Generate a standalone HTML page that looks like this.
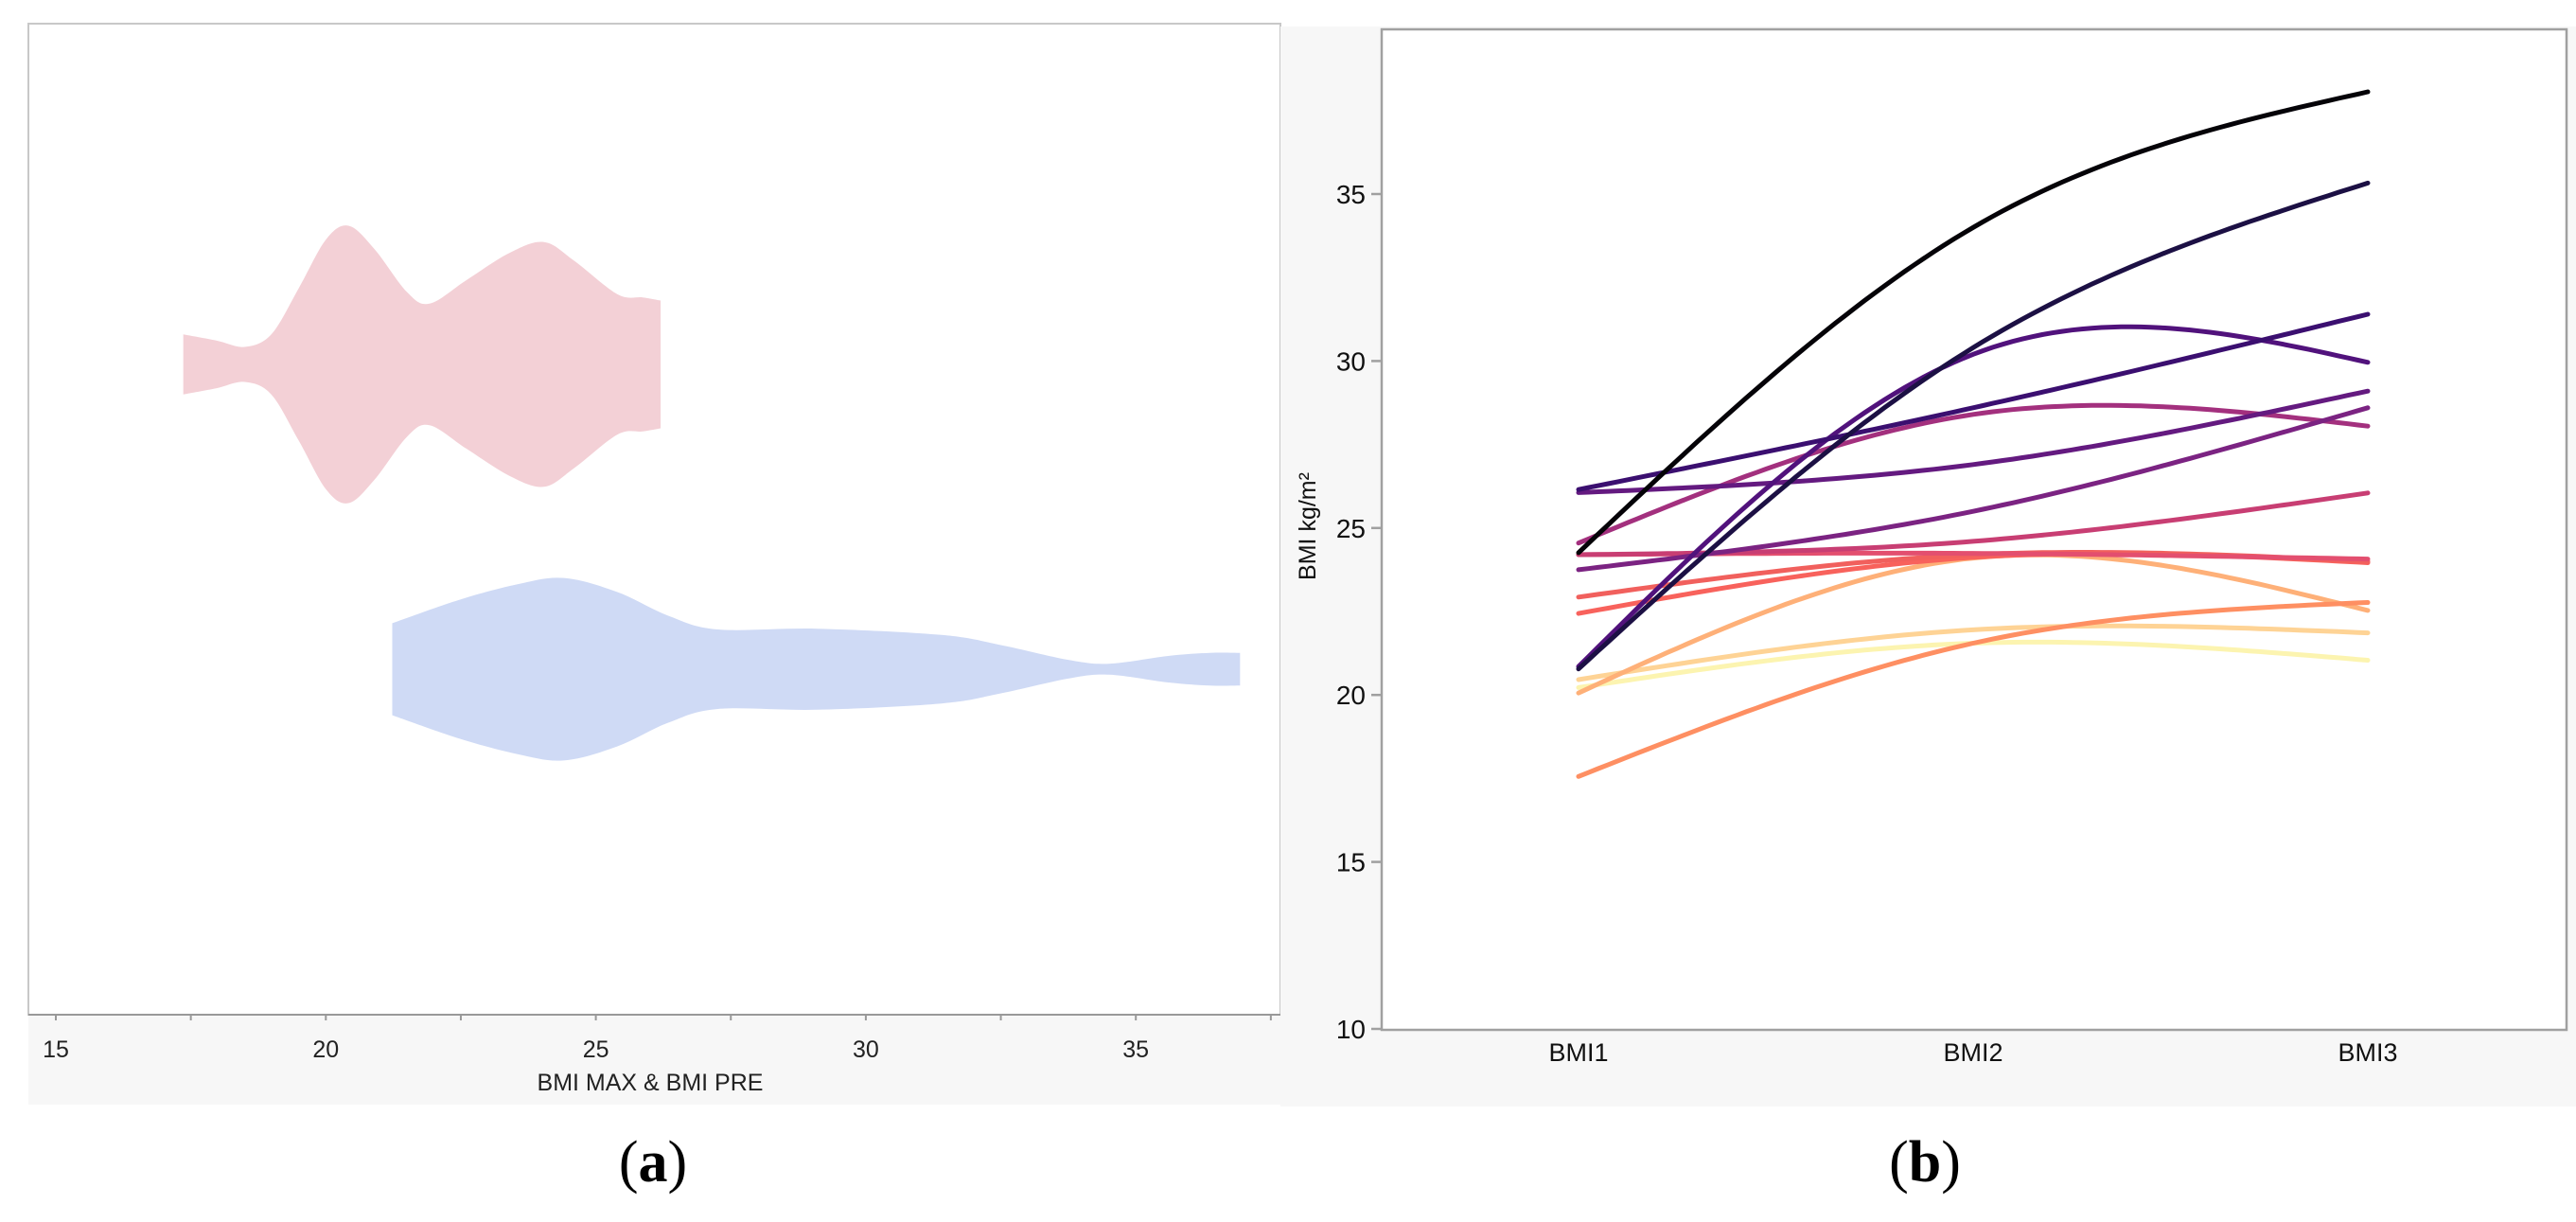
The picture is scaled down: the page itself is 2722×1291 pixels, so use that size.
<!DOCTYPE html>
<html><head><meta charset="utf-8"><style>
html,body{margin:0;padding:0;background:#fff;}
svg{display:block;font-family:"Liberation Sans",sans-serif;}
</style></head><body>
<svg id="root" width="2722" height="1291" viewBox="0 0 2722 1291" xmlns="http://www.w3.org/2000/svg">
<g id="pa">
  <rect x="30" y="25" width="1323" height="1047" fill="#fff" stroke="#c8c8c8" stroke-width="2"/>
  <rect x="30" y="1073" width="1323" height="94" fill="#f7f7f7"/>
  <line x1="30" y1="1072" x2="1353" y2="1072" stroke="#999" stroke-width="2"/>
  <g id="violins"></g>
  <g id="xticksA"></g>
  <text x="687" y="1152" font-size="25" text-anchor="middle" fill="#222">BMI MAX &amp; BMI PRE</text>
  <text x="690" y="1248" font-size="62" text-anchor="middle" font-family="'Liberation Serif',serif">(<tspan font-weight="bold">a</tspan>)</text>
</g>
<g id="pb">
  <rect x="1353" y="28" width="1369" height="1141" fill="#f7f7f7"/>
  <rect x="1460" y="31" width="1252" height="1057" fill="#fff" stroke="#a0a0a0" stroke-width="2.5"/>
  <g id="yticksB"></g>
  <g id="xticksB"></g>
  <g id="lines"></g>
  <text transform="translate(1390,556) rotate(-90)" font-size="25" text-anchor="middle" fill="#111">BMI kg/m²</text>
  <text x="2034" y="1248" font-size="62" text-anchor="middle" font-family="'Liberation Serif',serif">(<tspan font-weight="bold">b</tspan>)</text>
</g>
</svg>
<script>
const NS="http://www.w3.org/2000/svg";
// ---- Panel a data ----
const aTicks=[15,20,25,30,35];
const pinkX=[17.36,17.98,18.5,18.99,19.5,20.0,20.42,20.9,21.5,21.92,22.6,23.4,24.04,24.6,25.4,25.87,26.2];
const pinkW=[38.5,30.5,22.5,38.5,98,160,178,148,93,78,108,143,157,133,90,86,82];
const blueX=[21.23,22.47,23.55,24.41,25.4,26.33,27.26,29.1,31.4,32.5,33.75,34.5,35.6,36.37,36.93];
const blueW=[59,89,109,117,99,69,51,52,44,31,12,7,17,21,21];
// ---- Panel b data ----
const bCats=["BMI1","BMI2","BMI3"];
const bTicks=[10,15,20,25,30,35];
const s1=[24.26,34.0,38.06];
const s2=[20.78,30.4,35.33];
const s3=[26.15,28.6,31.4];
const s4=[20.85,30.2,29.96];
const s5=[26.06,26.9,29.1];
const s6=[23.75,25.5,28.6];
const s7=[24.55,28.4,28.05];
const s8=[24.2,24.6,26.05];
const s9=[24.2,24.24,24.07];
const s10=[22.93,24.2,24.0];
const s11=[22.44,24.12,23.96];
const s12=[17.56,21.55,22.77];
const s13=[20.06,24.1,22.53];
const s14=[20.46,21.95,21.86];
const s15=[20.22,21.55,21.04];
const series=[s15,s14,s13,s12,s11,s10,s9,s8,s7,s6,s5,s4,s3,s2,s1];
const colors=["#fcf4b0","#fed395","#feb078","#fe8f62","#f8625c","#f1605d","#e34f6f","#c83e73","#a3307e","#7b2382","#641a80","#51127c","#3b0f70","#1c1044","#050308"];

function ax(v){return 59+(v-15)*57.06;}
function mk(tag,attrs,parent){const e=document.createElementNS(NS,tag);for(const k in attrs)e.setAttribute(k,attrs[k]);parent.appendChild(e);return e;}
const gx=document.getElementById('xticksA');
for(let v=15;v<=37.5;v+=2.5){
  const t=mk('line',{x1:ax(v),x2:ax(v),y1:1072,y2:1078,stroke:'#999','stroke-width':2},gx);
  
  
}
aTicks.forEach(v=>{
  const t=mk('text',{x:ax(v),y:1117,'font-size':25,'text-anchor':'middle',fill:'#222'},gx);
  t.textContent=v;
  
  
});
function violin(xs,ws,cy,color,name){
  const k=1/1.2146;
  let top=xs.map((v,i)=>[ax(v),cy-ws[i]*k]);
  let bot=xs.map((v,i)=>[ax(v),cy+ws[i]*k]).reverse();
  function smooth(pts){
    let d='';
    for(let i=0;i<pts.length-1;i++){
      const p0=pts[Math.max(0,i-1)],p1=pts[i],p2=pts[i+1],p3=pts[Math.min(pts.length-1,i+2)];
      const c1=[p1[0]+(p2[0]-p0[0])/6,p1[1]+(p2[1]-p0[1])/6];
      const c2=[p2[0]-(p3[0]-p1[0])/6,p2[1]-(p3[1]-p1[1])/6];
      d+=` C${c1[0]},${c1[1]} ${c2[0]},${c2[1]} ${p2[0]},${p2[1]}`;
    }
    return d;
  }
  const d=`M${top[0][0]},${top[0][1]}`+smooth(top)+` L${bot[0][0]},${bot[0][1]}`+smooth(bot)+' Z';
  const p=mk('path',{d:d,fill:color},document.getElementById('violins'));
  
  
}
violin(pinkX,pinkW,385,'#f3d0d6','violin-bmi-max');
violin(blueX,blueW,707,'#cfdaf5','violin-bmi-pre');

// panel b axes
function by(v){return 1087-(v-10)*35.28;}
function bx(i){return 1668+i*417;}
const gy=document.getElementById('yticksB');
bTicks.forEach(v=>{
  const l=mk('line',{x1:1449,x2:1460,y1:by(v),y2:by(v),stroke:'#a0a0a0','stroke-width':2.5},gy);
  
  
  const t=mk('text',{x:1443,y:by(v)+10,'font-size':28,'text-anchor':'end',fill:'#111'},gy);
  t.textContent=v;
  
  
});
const gxb=document.getElementById('xticksB');
bCats.forEach((c,i)=>{
  const t=mk('text',{x:bx(i),y:1121,'font-size':27,'text-anchor':'middle',fill:'#111'},gxb);
  t.textContent=c;
  
  
});
function spline(s,t){
  const M1=1.5*(s[0]-2*s[1]+s[2]);
  if(t<=1){return (1-t)*s[0]+t*s[1]+(t*t*t-t)*M1/6;}
  const u=t-1;
  return (1-u)*s[1]+u*s[2]+((1-u)*(1-u)*(1-u)-(1-u))*M1/6;
}
const gl=document.getElementById('lines');
series.forEach((s,si)=>{
  let d='';
  for(let j=0;j<=80;j++){
    const t=j/40;
    const v=spline(s,t);
    d+=(j?'L':'M')+bx(t).toFixed(1)+','+by(v).toFixed(1);
  }
  const p=mk('path',{d:d,fill:'none',stroke:colors[si],'stroke-width':5,'stroke-linecap':'round'},gl);
  
  
});
</script>
</body></html>
